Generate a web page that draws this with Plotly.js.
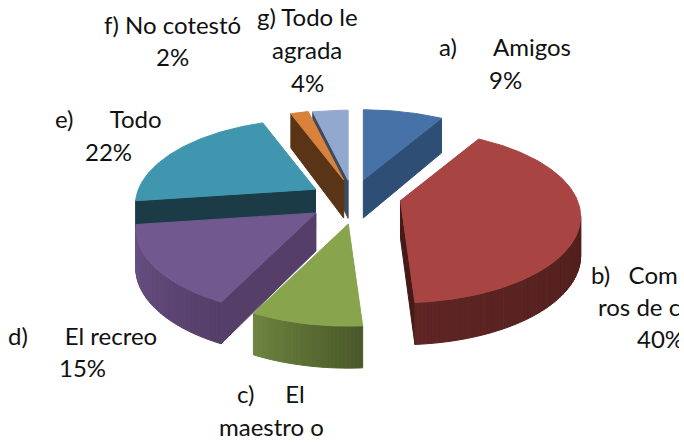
<!DOCTYPE html>
<html><head><meta charset="utf-8">
<script src="https://cdn.plot.ly/plotly-3.0.1.min.js"></script>
<style>html,body{margin:0;padding:0;background:#fff;overflow:hidden}#chart{width:679px;height:442px;overflow:hidden}</style>
</head><body><div id="chart"></div>
<script>
// Data
const categories = ["a) Amigos","b) Compañeros","c) El maestro","d) El recreo","e) Todo","f) No cotestó","g) Todo le agrada"];
const percents   = [9,40,8,15,22,2,4];
const topColors  = ["#4672A8","#A84543","#88A44D","#71588E","#4096AE","#D9823C","#92A8CE"];
const sideDark   = ["#2E4E75","#451A18","#4A5829","#553E68","#1B3C47","#5A3416","#3D4A60"];
const sideLight  = ["#2E4E75","#5E2523","#6E8540","#6A5388","#1B3C47","#5A3416","#3D4A60"];
const labelLines = ["f) No cotestó","2%","g) Todo le","agrada","4%","a)\u00A0\u00A0\u00A0\u00A0\u00A0\u00A0Amigos","9%","e)\u00A0\u00A0\u00A0\u00A0\u00A0\u00A0Todo","22%","d)\u00A0\u00A0\u00A0\u00A0\u00A0\u00A0El recreo","15%","c)\u00A0\u00A0\u00A0\u00A0\u00A0El","maestro o","b)\u00A0\u00A0\u00A0Com","ros de c","40%"];
const labelX = [172,172,307,307,307,505,505,108,108,82,82,271,271,589,596,635];
const labelY = [24,56,16,49,82,46,79,118,151,335,367,393,426,274,306,338];
const labelAnchor = ["center","center","center","center","center","center","center","center","center","center","center","center","center","left","left","left"];

// Geometry constants: pull distance and pull direction tweak per slice, stacking order
const explode    = [0.20,0.27,0.327,0.293,0.235,0.20,0.19];
const pullShift  = [0,0,-5.5,-7.3,-11,0,-3.4];
const paintOrder = [6,5,0,4,1,3,2];

// Perspective projection of the tilted pie disc
const CX=354, CY=195, A=175, B=82.3, C=-4.4, K=0.237;
const rad=d=>d*Math.PI/180;
function apexOf(e,m){ // exploded apex position on screen
  const X=e*Math.sin(rad(m)),Y=e*Math.cos(rad(m)),w=1+K*Y;
  return [CX+A*X/w, CY-B*Y/w];
}
function rimOf(ap,t){ // rim point relative to the apex
  const s=Math.sin(rad(t)),c=Math.cos(rad(t)),w=1+K*c;
  return {p:[ap[0]+A*s/w, ap[1]+(C-B*c)/w],d:38-4*c};
}
function hex(c){return [1,3,5].map(i=>parseInt(c.substr(i,2),16));}
function mix(c1,c2,t){const a=hex(c1),b=hex(c2);return "rgb("+a.map((v,i)=>Math.round(v+(b[i]-v)*t)).join(",")+")";}

const total=percents.reduce((s,v)=>s+v,0);
let cum=0;
const slices=percents.map((p,i)=>{
  const a0=cum/total*360; cum+=p; const a1=cum/total*360; const m=(a0+a1)/2+pullShift[i];
  const ap=apexOf(explode[i],m);
  const n=Math.max(6,Math.round(a1-a0));
  const rim=[];
  for(let j=0;j<=n;j++) rim.push(rimOf(ap,a0+(a1-a0)*j/n));
  return {apex:{p:ap,d:38},rim};
});

const traces=[];
function poly(P,color){
  traces.push({type:"scatter",mode:"lines",x:P.map(q=>q[0]).concat(P[0][0]),y:P.map(q=>q[1]).concat(P[0][1]),
    fill:"toself",fillcolor:color,line:{color:color,width:1},hoverinfo:"skip",showlegend:false});
}
function face(a,b,color){ // extruded quad, drawn only when it faces the viewer
  if(b.p[0]-a.p[0]>=-0.01) return;
  poly([a.p,b.p,[b.p[0],b.p[1]+b.d],[a.p[0],a.p[1]+a.d]],color);
}
paintOrder.forEach(c=>{
  const s=slices[c], n=s.rim.length-1;
  face(s.apex,s.rim[0],sideDark[c]);
  face(s.rim[n],s.apex,sideDark[c]);
  for(let j=0;j<n;j++) face(s.rim[j],s.rim[j+1],mix(sideDark[c],sideLight[c],j/n));
  poly([s.apex.p].concat(s.rim.map(r=>r.p)),topColors[c]);
});

const annotations=labelLines.map((t,i)=>({text:t,x:labelX[i],y:labelY[i],xref:"x",yref:"y",xanchor:labelAnchor[i],yanchor:"middle",showarrow:false,align:"center"}));

Plotly.newPlot("chart",traces,{
  width:679,height:442,margin:{l:0,r:0,t:0,b:0},paper_bgcolor:"#fff",plot_bgcolor:"#fff",showlegend:false,
  font:{family:"Lato, Carlito, sans-serif",size:24,color:"#111"},
  xaxis:{range:[0,679],visible:false,fixedrange:true},
  yaxis:{range:[442,0],visible:false,fixedrange:true},
  annotations:annotations
},{displayModeBar:false,staticPlot:true});
</script></body></html>
